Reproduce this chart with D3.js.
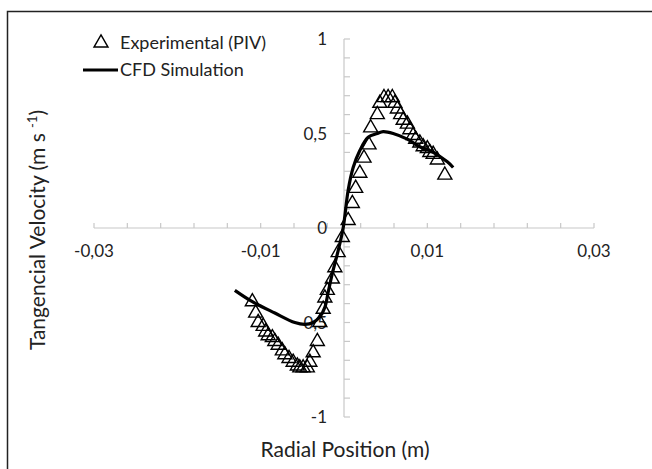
<!DOCTYPE html>
<html>
<head>
<meta charset="utf-8">
<script src="https://cdn.jsdelivr.net/npm/d3@7"></script>
<style>
  body { margin: 0; background: #fff; }
  svg { font-family: Lato, "Open Sans", sans-serif; }
</style>
</head>
<body>
<svg id="chart" width="652" height="469"></svg>
<script>
// Experimental (PIV) points
const pivX = [-0.0110, -0.0106, -0.0103, -0.0097, -0.0094, -0.0091, -0.0086, -0.0083, -0.0079, -0.0074,
  -0.0071, -0.0066, -0.0061, -0.0056, -0.0053, -0.0049, -0.0044, -0.0041, -0.0037, -0.0032,
  -0.0029, -0.0025, -0.0023, -0.0020, -0.0014, -0.0011, -0.0007, -0.0002, 0.0005, 0.0010,
  0.0014, 0.0019, 0.0024, 0.0030, 0.0032, 0.0040, 0.0043, 0.0048, 0.0053, 0.0058,
  0.0061, 0.0064, 0.0068, 0.0071, 0.0076, 0.0079, 0.0083, 0.0086, 0.0091, 0.0095,
  0.0100, 0.0103, 0.0107, 0.0112, 0.0121];
const pivY = [-0.39, -0.45, -0.50, -0.52, -0.55, -0.57, -0.58, -0.60, -0.62, -0.65,
  -0.67, -0.69, -0.71, -0.73, -0.74, -0.74, -0.74, -0.71, -0.66, -0.60,
  -0.50, -0.43, -0.37, -0.33, -0.27, -0.21, -0.13, -0.05, 0.04, 0.13,
  0.21, 0.29, 0.37, 0.44, 0.53, 0.60, 0.66, 0.69, 0.69, 0.69,
  0.66, 0.63, 0.60, 0.57, 0.55, 0.52, 0.49, 0.47, 0.45, 0.43,
  0.42, 0.40, 0.39, 0.36, 0.28];

// CFD Simulation curve
const cfdX = [-0.0131, -0.0110, -0.0083, -0.0059, -0.0047, -0.0037, -0.0029, -0.0023, -0.0019, -0.0014,
  -0.0007, -0.0001, 0.0005, 0.0011, 0.0019, 0.0029, 0.0040, 0.0047, 0.0059, 0.0076,
  0.0091, 0.0107, 0.0124, 0.0131];
const cfdY = [-0.33, -0.39, -0.45, -0.50, -0.51, -0.50, -0.47, -0.42, -0.34, -0.24,
  -0.12, 0.0, 0.20, 0.32, 0.41, 0.48, 0.50, 0.51, 0.50, 0.47,
  0.43, 0.40, 0.35, 0.32];

const xTickLabels = [-0.03, -0.01, 0.01, 0.03];
const yTickLabels = [-1, -0.5, 0, 0.5, 1];

const svg = d3.select("#chart");
const fmt = v => String(v).replace(".", ",");

// frame
svg.append("rect")
  .attr("x", 7.5).attr("y", 11.5)
  .attr("width", 660).attr("height", 470)
  .attr("fill", "none")
  .attr("stroke", "#222")
  .attr("stroke-width", 1.5);

const x = d3.scaleLinear().domain([-0.03, 0.03]).range([94, 594]);
const y = d3.scaleLinear().domain([-1, 1]).range([417, 39]);

// x axis on y = 0, ticks pointing up
const xTicks = d3.range(16).map(i => -0.03 + i * 0.004);
const gx = svg.append("g").attr("transform", `translate(0,${y(0)})`);
gx.append("line")
  .attr("x1", x(-0.03)).attr("x2", x(0.03))
  .attr("stroke", "#c8c8c8").attr("stroke-width", 1.2);
gx.selectAll(".xt").data(xTicks).enter().append("line")
  .attr("x1", d => x(d)).attr("x2", d => x(d))
  .attr("y1", 0).attr("y2", -5)
  .attr("stroke", "#c8c8c8").attr("stroke-width", 1.2);
gx.selectAll(".xl").data(xTickLabels).enter().append("text")
  .attr("x", d => x(d)).attr("y", 29)
  .attr("text-anchor", "middle")
  .style("font-size", "17px")
  .attr("fill", "#222")
  .text(fmt);

// y axis on x = 0, ticks pointing right
const yTicks = d3.range(21).map(i => -1 + i * 0.1);
const gy = svg.append("g").attr("transform", `translate(${x(0)},0)`);
gy.append("line")
  .attr("y1", y(-1)).attr("y2", y(1))
  .attr("stroke", "#c8c8c8").attr("stroke-width", 1.2);
gy.selectAll(".yt").data(yTicks).enter().append("line")
  .attr("y1", d => y(d)).attr("y2", d => y(d))
  .attr("x1", 0).attr("x2", 6)
  .attr("stroke", "#c8c8c8").attr("stroke-width", 1.2);
gy.selectAll(".yl").data(yTickLabels).enter().append("text")
  .attr("x", -17).attr("y", d => y(d) + 6)
  .attr("text-anchor", "end")
  .style("font-size", "17px")
  .attr("fill", "#222")
  .text(fmt);

// CFD line
const line = d3.line()
  .x((d, i) => x(cfdX[i]))
  .y(d => y(d))
  .curve(d3.curveCatmullRom);
svg.append("path")
  .datum(cfdY)
  .attr("d", line)
  .attr("fill", "none")
  .attr("stroke", "#000")
  .attr("stroke-width", 3.2);

// PIV triangles
const tri = d3.symbol().type(d3.symbolTriangle).size(85);
svg.selectAll(".piv").data(pivY).enter().append("path")
  .attr("d", tri)
  .attr("transform", (d, i) => `translate(${x(pivX[i])},${y(d)})`)
  .attr("fill", "none")
  .attr("stroke", "#000")
  .attr("stroke-width", 1.4);

// legend
svg.append("path")
  .attr("d", tri)
  .attr("transform", "translate(101,43)")
  .attr("fill", "none")
  .attr("stroke", "#000")
  .attr("stroke-width", 1.4);
svg.append("text")
  .attr("x", 120).attr("y", 49)
  .style("font-size", "18px")
  .attr("fill", "#222")
  .text("Experimental (PIV)");
svg.append("line")
  .attr("x1", 83).attr("x2", 118)
  .attr("y1", 70).attr("y2", 70)
  .attr("stroke", "#000").attr("stroke-width", 3.2);
svg.append("text")
  .attr("x", 120).attr("y", 76)
  .style("font-size", "18px")
  .attr("fill", "#222")
  .text("CFD Simulation");

// axis titles
svg.append("text")
  .attr("x", 345).attr("y", 457)
  .attr("text-anchor", "middle")
  .style("font-size", "21px")
  .attr("fill", "#222")
  .text("Radial Position (m)");
const yt = svg.append("text")
  .attr("transform", "translate(45,230) rotate(-90)")
  .attr("text-anchor", "middle")
  .style("font-size", "21px")
  .attr("fill", "#222");
yt.append("tspan").text("Tangencial Velocity (m s ");
yt.append("tspan").attr("dy", -8).style("font-size", "13px").text("-1");
yt.append("tspan").attr("dy", 8).text(")");
</script>
</body>
</html>
